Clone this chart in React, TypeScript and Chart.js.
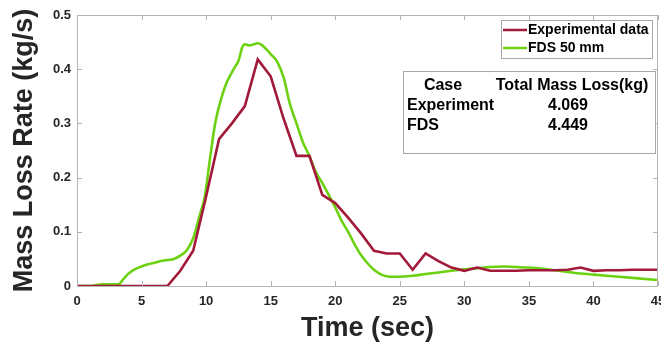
import React, { useEffect, useRef } from "react";
import { Chart, registerables } from "chart.js";

Chart.register(...registerables);

// Experimental data (1 s sampling)
const expTime = [
  0, 1, 2, 3, 4, 5, 6, 7, 8, 9, 10, 11, 12, 13, 14, 15, 16, 17, 18, 19, 20, 21, 22,
  23, 24, 25, 26, 27, 28, 29, 30, 31, 32, 33, 34, 35, 36, 37, 38, 39, 40, 41, 42, 43, 44, 45,
];
const expRate = [
  0, 0, 0, 0, 0, 0, 0, 0, 0.028, 0.065, 0.165, 0.271, 0.3, 0.332, 0.418, 0.387, 0.309, 0.24,
  0.24, 0.168, 0.153, 0.126, 0.097, 0.065, 0.06, 0.06, 0.03, 0.06, 0.046, 0.034, 0.028, 0.034,
  0.028, 0.028, 0.028, 0.029, 0.029, 0.029, 0.03, 0.034, 0.028, 0.029, 0.029, 0.03, 0.03, 0.03,
];

// FDS 50 mm
const fdsTime = [
  0, 1, 1.5, 2, 3, 3.2, 3.6, 4, 4.5, 5, 5.5, 6, 6.5, 7, 7.5, 8, 8.5, 9, 9.5, 9.9, 10.3, 10.7,
  11.1, 11.5, 11.9, 12.2, 12.5, 12.8, 13, 13.3, 13.6, 14, 14.3, 14.7, 15, 15.5, 16, 16.5, 17,
  17.5, 18, 18.5, 19, 19.5, 20, 20.5, 21, 21.5, 22, 22.5, 23, 23.5, 24, 24.5, 25, 26, 27, 28,
  29, 30, 31, 32, 33, 34, 35, 36, 37, 38, 39, 40, 41, 42, 43, 44, 45,
];
const fdsRate = [
  0, 0, 0.002, 0.003, 0.003, 0.003, 0.013, 0.023, 0.031, 0.036, 0.04, 0.043, 0.046, 0.048,
  0.05, 0.056, 0.066, 0.088, 0.13, 0.165, 0.235, 0.3, 0.34, 0.37, 0.39, 0.403, 0.415, 0.44,
  0.446, 0.444, 0.445, 0.448, 0.445, 0.436, 0.428, 0.414, 0.385, 0.335, 0.3, 0.265, 0.24,
  0.21, 0.19, 0.168, 0.145, 0.12, 0.1, 0.077, 0.057, 0.042, 0.03, 0.022, 0.018, 0.017, 0.017,
  0.019, 0.022, 0.025, 0.028, 0.031, 0.033, 0.035, 0.036, 0.035, 0.034, 0.032, 0.029, 0.026,
  0.023, 0.021, 0.019, 0.017, 0.015, 0.013, 0.011,
];

const xTicks = [0, 5, 10, 15, 20, 25, 30, 35, 40, 45];
const yTicks = [0, 0.1, 0.2, 0.3, 0.4, 0.5];

const seriesNames = ["Experimental data", "FDS 50 mm"];
const tableHeader = ["Case", "Total Mass Loss(kg)"];
const tableCases = ["Experiment", "FDS"];
const tableValues = ["4.069", "4.449"];

const RED = "#A3193A";
const GREEN = "#6CD111";
const TEXT = "#262626";
const AXIS = "#B4B4B4";
const FONT = "'Liberation Sans', Arial, Helvetica, sans-serif";

const overlayPlugin = {
  id: "overlay",
  afterDraw(chart: any) {
    const { ctx, chartArea: a, scales } = chart;
    const xs = scales.x;
    const ys = scales.y;
    ctx.save();
    // axes box
    ctx.strokeStyle = AXIS;
    ctx.lineWidth = 1;
    ctx.strokeRect(a.left + 0.5, a.top + 0.5, a.right - a.left - 1, a.bottom - a.top);
    // inward ticks
    const tl = 5;
    ctx.beginPath();
    xTicks.forEach((v) => {
      const px = Math.round(xs.getPixelForValue(v)) + 0.5;
      ctx.moveTo(px, a.bottom);
      ctx.lineTo(px, a.bottom - tl);
      ctx.moveTo(px, a.top);
      ctx.lineTo(px, a.top + tl);
    });
    yTicks.forEach((v) => {
      const py = Math.round(ys.getPixelForValue(v)) + 0.5;
      ctx.moveTo(a.left, py);
      ctx.lineTo(a.left + tl, py);
      ctx.moveTo(a.right, py);
      ctx.lineTo(a.right - tl, py);
    });
    ctx.stroke();

    // legend
    ctx.fillStyle = "#FFFFFF";
    ctx.fillRect(501.5, 20.5, 151, 38);
    ctx.strokeStyle = "#A8A8A8";
    ctx.strokeRect(501.5, 20.5, 151, 38);
    const colors = [RED, GREEN];
    const rowsY = [30, 48];
    ctx.font = `bold 14px ${FONT}`;
    ctx.textBaseline = "middle";
    ctx.textAlign = "left";
    seriesNames.forEach((name, i) => {
      ctx.strokeStyle = colors[i];
      ctx.lineWidth = 2.5;
      ctx.beginPath();
      ctx.moveTo(503, rowsY[i]);
      ctx.lineTo(527, rowsY[i]);
      ctx.stroke();
      ctx.fillStyle = "#000000";
      ctx.fillText(name, 528, rowsY[i] + 0.5);
    });

    // table box
    ctx.fillStyle = "#FFFFFF";
    ctx.fillRect(403.5, 71.5, 252, 82);
    ctx.strokeStyle = "#A8A8A8";
    ctx.lineWidth = 1;
    ctx.strokeRect(403.5, 71.5, 252, 82);
    ctx.fillStyle = "#000000";
    ctx.font = `bold 16px ${FONT}`;
    ctx.textAlign = "center";
    ctx.fillText(tableHeader[0], 443, 86);
    ctx.fillText(tableHeader[1], 572, 86);
    tableCases.forEach((c, i) => {
      const y = 106 + i * 20;
      ctx.textAlign = "left";
      ctx.fillText(c, 407, y);
      ctx.textAlign = "center";
      ctx.fillText(tableValues[i], 568, y);
    });
    ctx.restore();
  },
};

export default function App() {
  const ref = useRef<HTMLCanvasElement>(null);
  useEffect(() => {
    const canvas = ref.current;
    if (!canvas) return;
    const chart = new Chart(canvas, {
      type: "line",
      data: {
        datasets: [
          {
            label: seriesNames[0],
            data: expTime.map((t, i) => ({ x: t, y: expRate[i] })),
            borderColor: RED,
            backgroundColor: RED,
            borderWidth: 2.6,
            pointRadius: 0,
            tension: 0,
          },
          {
            label: seriesNames[1],
            data: fdsTime.map((t, i) => ({ x: t, y: fdsRate[i] })),
            borderColor: GREEN,
            backgroundColor: GREEN,
            borderWidth: 2.6,
            pointRadius: 0,
            cubicInterpolationMode: "monotone",
          },
        ],
      },
      options: {
        animation: false,
        responsive: false,
        maintainAspectRatio: false,
        layout: { padding: { top: 15, right: 3, left: 0, bottom: 0 } },
        plugins: {
          legend: { display: false },
          tooltip: { enabled: false },
        },
        scales: {
          x: {
            type: "linear",
            min: 0,
            max: 45,
            afterFit: (s: any) => {
              s.height = 56;
              s.paddingLeft = 0;
              s.paddingRight = 0;
            },
            afterBuildTicks: (s: any) => {
              s.ticks = xTicks.map((v) => ({ value: v }));
            },
            grid: { display: false, drawTicks: false },
            border: { display: false },
            ticks: {
              padding: 8,
              maxRotation: 0,
              autoSkip: false,
              color: TEXT,
              font: { family: FONT, size: 13, weight: "bold" },
              callback: (v: any) => String(v),
            },
            title: {
              display: true,
              text: "Time (sec)",
              color: TEXT,
              font: { family: FONT, size: 27, weight: "bold", lineHeight: 1 },
              padding: { top: 0, bottom: 0 },
            },
          },
          y: {
            type: "linear",
            min: 0,
            max: 0.5,
            afterFit: (s: any) => {
              s.width = 77;
              s.paddingTop = 0;
              s.paddingBottom = 0;
            },
            afterBuildTicks: (s: any) => {
              s.ticks = yTicks.map((v) => ({ value: v }));
            },
            grid: { display: false, drawTicks: false },
            border: { display: false },
            ticks: {
              padding: 6,
              autoSkip: false,
              color: TEXT,
              font: { family: FONT, size: 13, weight: "bold" },
              callback: (v: any) => (v === 0 ? "0" : Number(v).toFixed(1)),
            },
            title: {
              display: true,
              text: "Mass Loss Rate (kg/s)",
              color: TEXT,
              font: { family: FONT, size: 27, weight: "bold", lineHeight: 1 },
              padding: { top: 11.5, bottom: 0 },
            },
          },
        },
      },
      plugins: [overlayPlugin],
    } as any);
    return () => chart.destroy();
  }, []);
  return (
    <div style={{ position: "absolute", left: 0, top: 0, width: 661, height: 342, background: "#fff" }}>
      <canvas ref={ref} width={661} height={342} style={{ width: 661, height: 342, display: "block" }} />
    </div>
  );
}
